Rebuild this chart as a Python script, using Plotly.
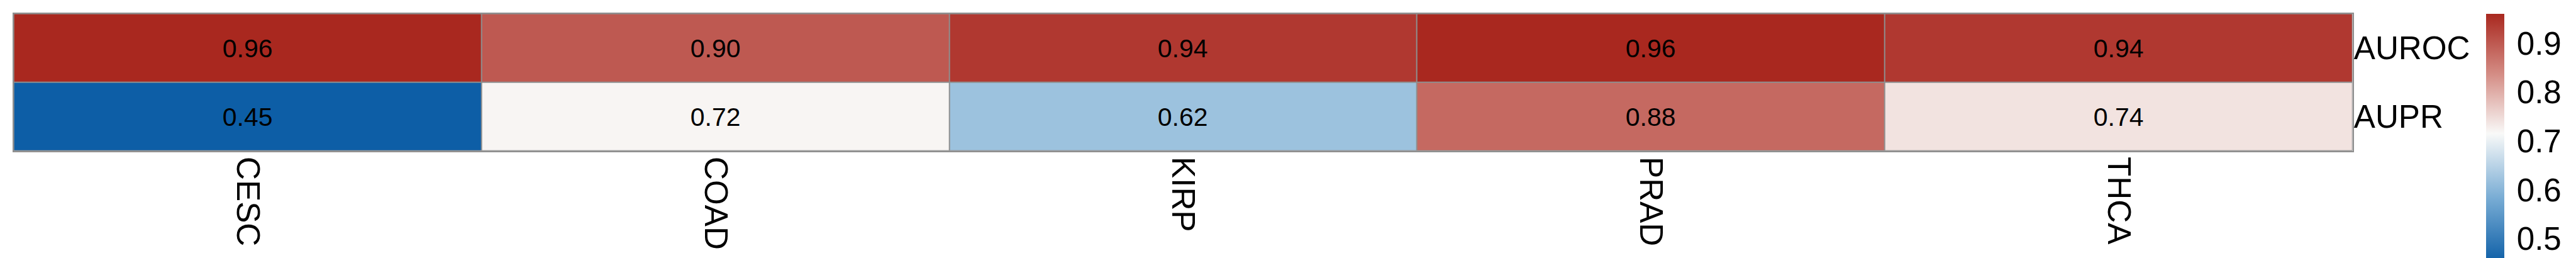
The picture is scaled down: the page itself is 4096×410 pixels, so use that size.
import plotly.graph_objects as go

# Data
cancers = ["CESC", "COAD", "KIRP", "PRAD", "THCA"]
metrics = ["AUROC", "AUPR"]
auroc = [0.96, 0.90, 0.94, 0.96, 0.94]
aupr = [0.45, 0.72, 0.62, 0.88, 0.74]
cbar_ticks = [0.5, 0.6, 0.7, 0.8, 0.9]

W, H = 4096, 410
S = 0.682

def px(v):
    return v * S

FONT = "Liberation Sans, Arial, Helvetica, sans-serif"
GRID = "#8f8f8f"

colorscale = [
    [0.0, "rgb(13,94,166)"],
    [0.26, "rgb(120,172,212)"],
    [0.52, "rgb(249,249,248)"],
    [0.76, "rgb(212,140,132)"],
    [1.0, "rgb(169,40,31)"],
]

z = [auroc, aupr]
zmin, zmax = min(min(auroc), min(aupr)), max(max(auroc), max(aupr))

fig = go.Figure(
    go.Heatmap(
        z=z,
        x=cancers,
        y=metrics,
        zmin=zmin,
        zmax=zmax,
        colorscale=colorscale,
        xgap=2,
        ygap=2,
        texttemplate="%{z:.2f}",
        textfont=dict(family=FONT, size=px(60), color="black"),
        hoverinfo="skip",
        colorbar=dict(
            thickness=px(42),
            thicknessmode="pixels",
            lenmode="pixels",
            len=px(580),
            x=px(5784) / W,
            xanchor="left",
            xpad=0,
            y=1 - px(21) / H,
            yanchor="top",
            ypad=0,
            outlinewidth=0,
            tickvals=cbar_ticks,
            ticktext=[f"{v:.1f}" for v in cbar_ticks],
            ticks="outside",
            ticklen=round(px(14)),
            tickcolor="rgba(0,0,0,0)",
            tickfont=dict(family=FONT, size=px(75), color="black"),
        ),
    )
)

x0, x1 = px(20) / W, px(5473) / W
y_top, y_bot = 1 - px(20) / H, 1 - px(340) / H

fig.update_layout(
    width=W,
    height=H,
    margin=dict(l=0, r=0, t=0, b=0, pad=0),
    paper_bgcolor="white",
    plot_bgcolor=GRID,
    xaxis=dict(
        domain=[x0, x1],
        automargin=False,
        showgrid=False,
        zeroline=False,
        showline=True,
        mirror=True,
        linecolor=GRID,
        linewidth=2,
        ticks="",
        tickangle=90,
        ticklabelstandoff=-3,
        tickfont=dict(family=FONT, size=px(75), color="black"),
    ),
    yaxis=dict(
        domain=[y_bot, y_top],
        automargin=False,
        autorange="reversed",
        side="right",
        showgrid=False,
        zeroline=False,
        showline=True,
        mirror=True,
        linecolor=GRID,
        linewidth=2,
        ticks="",
        ticklabelstandoff=-10,
        tickfont=dict(family=FONT, size=px(75), color="black"),
    ),
)

fig.write_html("out.html")
